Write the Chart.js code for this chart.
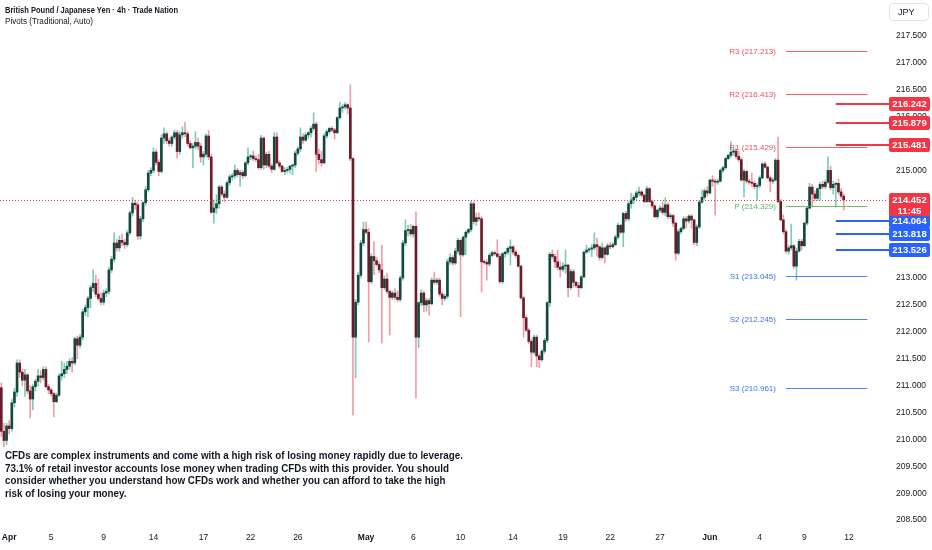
<!DOCTYPE html>
<html><head><meta charset="utf-8">
<script src="https://cdn.jsdelivr.net/npm/chart.js@4.4.1/dist/chart.umd.min.js"></script>
<style>
html,body{margin:0;padding:0;background:#fff;}
#wrap{position:relative;width:932px;height:550px;overflow:hidden;background:#fff;}
#c{position:absolute;left:0;top:0;}
.t{position:absolute;font-family:"Liberation Sans",Arial,sans-serif;color:#131722;white-space:nowrap;transform-origin:0 0;}
#jpy{position:absolute;left:889px;top:3px;width:40px;height:18px;border:1px solid #e0e3eb;border-radius:4px;box-sizing:border-box;font:9px "Liberation Sans",Arial,sans-serif;color:#131722;line-height:16px;padding-left:8px;}
</style></head><body>
<div id="wrap">
<canvas id="c" width="932" height="550"></canvas>
<div class="t" id="title" style="left:5px;top:5px;font-size:8.5px;font-weight:bold;">British Pound / Japanese Yen · 4h · Trade Nation</div>
<div class="t" id="sub" style="left:5px;top:16px;font-size:8.5px;">Pivots (Traditional, Auto)</div>
<div id="jpy">JPY</div>
<div class="t" id="disc" style="left:5px;top:449px;font-size:10.5px;line-height:12.6px;font-weight:bold;">
<div id="d1">CFDs are complex instruments and come with a high risk of losing money rapidly due to leverage.</div>
<div>73.1% of retail investor accounts lose money when trading CFDs with this provider. You should</div>
<div>consider whether you understand how CFDs work and whether you can afford to take the high</div>
<div>risk of losing your money.</div>
</div>
</div>
<script>
// ---- DATA (GBP/JPY 4h candles) ----
const openP = [
210.96,210.15,209.98,210.25,210.2,210.68,210.88,211.42,211.25,211.1,
211.2,210.9,210.75,210.98,211.08,211.18,211.15,211.3,210.98,210.92,
210.85,210.7,210.82,211.18,211.22,211.3,211.36,211.45,211.42,211.87,
211.75,211.9,212.37,212.45,212.62,212.82,212.9,212.7,212.62,212.55,
212.72,212.75,213.15,213.35,213.65,213.56,213.7,213.66,213.62,213.84,
214.21,214.39,214.36,213.78,214.1,214.4,214.64,214.95,215.0,215.34,
215.15,214.98,215.6,215.68,215.55,215.5,215.62,215.7,215.35,215.66,
215.7,215.68,215.5,215.42,215.45,215.52,215.45,215.25,215.3,215.64,
215.25,214.22,214.3,214.38,214.69,214.56,214.5,214.77,214.88,214.9,
215.0,214.92,214.96,214.9,215.14,215.25,215.27,215.22,215.2,215.05,
215.6,215.1,215.3,215.08,215.02,215.62,215.14,215.08,214.98,215.0,
215.02,215.08,215.1,215.32,215.4,215.62,215.56,215.66,215.7,215.78,
215.86,215.3,215.2,215.14,215.64,215.72,215.78,215.75,215.7,215.98,
216.16,216.18,216.22,216.16,215.22,211.9,212.55,213.05,213.65,213.9,
213.85,212.93,213.4,213.32,213.25,213.15,212.82,212.98,212.75,212.64,
212.72,212.64,212.6,213.0,213.65,213.88,213.9,213.82,213.96,211.9,
212.54,212.72,212.5,212.58,212.52,212.96,212.92,212.96,212.7,212.62,
212.66,213.3,213.38,213.28,213.5,213.7,213.43,213.76,213.85,213.9,
214.38,214.05,214.12,214.1,213.3,213.29,213.26,213.42,213.47,213.45,
213.4,212.93,213.45,213.48,213.55,213.58,213.48,213.42,213.22,212.63,
212.26,212.03,211.82,211.62,211.9,211.55,211.48,211.64,211.84,212.54,
213.44,213.4,213.3,213.2,213.16,213.22,213.24,212.82,213.12,212.92,
212.86,212.82,213.02,213.48,213.52,213.54,213.56,213.62,213.58,213.38,
213.56,213.44,213.6,213.58,213.62,213.76,213.98,213.85,214.2,214.1,
214.38,214.45,214.5,214.58,214.6,214.54,214.42,214.66,214.42,214.34,
214.14,214.26,214.3,214.22,214.36,214.14,214.16,214.02,213.46,213.86,
213.92,214.1,214.06,214.15,214.08,213.66,213.95,214.41,214.5,214.62,
214.58,214.82,214.8,214.78,214.8,215.0,215.05,215.22,215.28,215.34,
215.36,215.26,215.2,214.82,214.98,214.8,214.78,214.76,214.7,214.72,
214.86,215.12,215.06,214.86,214.8,214.82,215.19,214.42,214.08,213.86,
213.5,213.56,213.6,213.22,213.5,213.68,213.6,214.02,214.3,214.69,
214.56,214.48,214.66,214.74,214.7,214.78,215.0,214.68,214.74,214.76,
214.6,214.52];
const highP = [
211.05,210.3,210.3,210.35,210.75,210.95,211.48,211.48,211.3,211.3,
211.22,211.0,211.02,211.12,211.3,211.28,211.35,211.35,211.02,210.95,
210.88,210.86,211.22,211.45,211.42,211.45,211.5,211.52,211.9,211.92,
211.95,212.42,212.5,212.66,212.86,213.15,213.05,212.98,212.72,212.78,
212.8,213.2,213.4,213.84,213.72,213.78,213.82,213.72,213.88,214.25,
214.5,214.45,214.4,214.15,214.42,214.7,215.0,215.05,215.42,215.38,
215.2,215.66,215.79,215.72,215.6,215.64,215.75,215.74,215.72,215.81,
215.9,215.72,215.55,215.5,215.72,215.6,215.5,215.35,215.68,215.74,
215.3,214.45,214.55,214.72,214.72,214.62,214.8,214.92,214.94,215.1,
215.04,215.0,215.0,215.16,215.42,215.3,215.36,215.26,215.3,215.65,
215.62,215.34,215.36,215.12,215.7,215.7,215.18,215.1,215.05,215.06,
215.1,215.12,215.36,215.44,215.79,215.68,215.7,215.72,215.82,216.07,
215.9,215.4,215.36,215.68,215.76,215.8,215.82,215.78,216.0,216.27,
216.22,216.26,216.24,216.59,215.24,212.6,213.1,213.7,214.04,214.04,
213.92,213.45,213.67,213.38,213.3,213.61,213.04,213.08,212.78,212.76,
212.8,212.76,213.04,213.7,214.08,213.98,214.0,213.98,214.23,212.56,
212.78,212.76,212.62,212.62,213.0,213.11,213.0,213.0,212.74,212.7,
213.35,213.45,213.42,213.55,213.74,213.72,213.78,213.88,213.92,214.43,
214.42,214.21,214.21,214.14,213.34,213.34,213.46,213.5,213.5,213.71,
213.45,213.48,213.5,213.58,213.71,213.6,213.52,213.45,213.24,212.66,
212.3,212.06,211.86,211.94,211.94,211.58,211.68,211.88,212.56,213.48,
213.52,213.44,213.52,213.3,213.28,213.52,213.26,213.16,213.16,212.94,
212.92,213.05,213.5,213.61,213.56,213.62,213.84,213.74,213.6,213.65,
213.58,213.64,213.66,213.66,213.8,214.02,214.0,214.22,214.24,214.42,
214.58,214.54,214.62,214.69,214.62,214.56,214.7,214.68,214.45,214.36,
214.28,214.34,214.41,214.49,214.4,214.2,214.18,214.04,213.9,213.95,
214.14,214.14,214.18,214.18,214.1,213.99,214.44,214.64,214.66,214.7,
214.84,214.9,214.84,214.84,215.03,215.08,215.25,215.3,215.53,215.4,
215.4,215.36,215.24,215.02,215.0,214.84,214.95,214.8,214.76,214.9,
215.14,215.16,215.08,214.9,214.86,215.22,215.62,214.46,214.17,213.9,
213.6,214.0,213.62,213.56,213.72,213.72,214.04,214.32,214.76,214.74,
214.62,214.68,214.78,214.8,214.82,215.25,215.08,214.8,214.78,214.84,
214.66,214.56];
const lowP = [
210.05,209.86,209.9,210.1,210.15,210.6,210.8,211.15,211.0,210.8,
210.85,210.4,210.55,210.9,211.0,211.05,211.1,210.95,210.85,210.8,
210.42,210.68,210.8,211.1,211.15,211.22,211.3,211.25,211.38,211.5,
211.7,211.85,212.3,212.28,212.45,212.75,212.65,212.58,212.5,212.5,
212.65,212.7,213.1,213.3,213.5,213.5,213.6,213.55,213.58,213.8,
214.15,214.28,213.72,213.72,214.05,214.35,214.6,214.9,214.95,215.1,
214.9,214.95,215.5,215.5,215.45,215.45,215.58,215.23,215.3,215.6,
215.62,215.45,215.4,215.05,215.4,215.38,215.15,215.1,215.25,215.2,
214.2,214.02,214.2,214.3,214.52,214.42,214.48,214.72,214.82,214.85,
214.88,214.7,214.85,214.88,215.1,215.2,215.18,215.16,215.02,215.02,
215.02,215.05,215.05,214.96,215.0,215.12,215.04,214.96,214.92,214.95,
214.95,214.92,215.05,215.28,215.35,215.5,215.54,215.6,215.62,215.74,
214.98,215.12,215.08,215.12,215.6,215.68,215.72,215.58,215.68,215.95,
216.08,216.14,216.05,215.18,210.45,211.14,212.5,213.0,213.6,213.82,
211.81,212.9,213.06,213.22,213.1,211.79,212.78,212.72,211.94,212.6,
212.6,212.56,212.56,212.96,213.6,213.78,213.78,213.76,210.77,211.7,
212.48,212.37,212.38,212.31,212.5,212.88,212.88,212.66,212.5,212.58,
212.62,213.25,213.24,213.25,213.45,212.28,213.4,213.43,213.82,213.86,
214.0,213.98,214.06,212.74,213.26,212.96,213.22,213.4,213.42,213.38,
212.9,212.9,213.38,213.44,213.24,213.44,213.38,213.2,212.6,211.9,
212.0,211.78,211.35,211.58,211.35,211.33,211.45,211.6,211.8,212.47,
213.36,213.19,213.15,213.02,213.12,213.09,212.65,212.78,212.83,212.82,
212.65,212.8,213.0,213.46,213.48,213.4,213.52,213.4,213.33,213.35,
213.28,213.42,213.54,213.56,213.6,213.72,213.82,213.58,214.05,214.06,
214.3,214.38,214.46,214.52,214.5,214.4,214.4,214.4,214.3,214.12,
214.1,214.22,214.18,214.16,214.1,214.1,213.96,213.33,213.43,213.82,
213.9,213.93,214.02,213.93,213.62,213.6,213.92,214.38,214.46,214.52,
214.56,214.7,214.17,214.74,214.78,214.96,215.02,215.2,215.24,215.28,
215.22,215.16,214.8,214.51,214.76,214.74,214.7,214.66,214.45,214.68,
214.84,215.04,214.84,214.6,214.76,214.8,214.4,214.06,213.82,213.46,
213.44,213.52,213.18,212.96,213.48,213.52,213.58,213.98,214.28,214.32,
214.44,214.44,214.45,214.66,214.66,214.76,214.64,214.56,214.32,214.56,
214.48,214.26];
const closeP = [
210.15,209.98,210.25,210.2,210.68,210.88,211.42,211.25,211.1,211.2,
210.9,210.75,210.98,211.08,211.18,211.15,211.3,210.98,210.92,210.85,
210.7,210.82,211.18,211.22,211.3,211.36,211.45,211.42,211.87,211.75,
211.9,212.37,212.45,212.62,212.82,212.9,212.7,212.62,212.55,212.72,
212.75,213.15,213.35,213.65,213.56,213.7,213.66,213.62,213.84,214.21,
214.39,214.36,213.78,214.1,214.4,214.64,214.95,215.0,215.34,215.15,
214.98,215.6,215.68,215.55,215.5,215.62,215.7,215.35,215.66,215.7,
215.68,215.5,215.42,215.45,215.52,215.45,215.25,215.3,215.64,215.25,
214.22,214.3,214.38,214.69,214.56,214.5,214.77,214.88,214.9,215.0,
214.92,214.96,214.9,215.14,215.25,215.27,215.22,215.2,215.05,215.6,
215.1,215.3,215.08,215.02,215.62,215.14,215.08,214.98,215.0,215.02,
215.08,215.1,215.32,215.4,215.62,215.56,215.66,215.7,215.78,215.86,
215.3,215.2,215.14,215.64,215.72,215.78,215.75,215.7,215.98,216.16,
216.18,216.22,216.16,215.22,211.9,212.55,213.05,213.65,213.9,213.85,
212.93,213.4,213.32,213.25,213.15,212.82,212.98,212.75,212.64,212.72,
212.64,212.6,213.0,213.65,213.88,213.9,213.82,213.96,211.9,212.54,
212.72,212.5,212.58,212.52,212.96,212.92,212.96,212.7,212.62,212.66,
213.3,213.38,213.28,213.5,213.7,213.43,213.76,213.85,213.9,214.38,
214.05,214.12,214.1,213.3,213.29,213.26,213.42,213.47,213.45,213.4,
212.93,213.45,213.48,213.55,213.58,213.48,213.42,213.22,212.63,212.26,
212.03,211.82,211.62,211.9,211.55,211.48,211.64,211.84,212.54,213.44,
213.4,213.3,213.2,213.16,213.22,213.24,212.82,213.12,212.92,212.86,
212.82,213.02,213.48,213.52,213.54,213.56,213.62,213.58,213.38,213.56,
213.44,213.6,213.58,213.62,213.76,213.98,213.85,214.2,214.1,214.38,
214.45,214.5,214.58,214.6,214.54,214.42,214.66,214.42,214.34,214.14,
214.26,214.3,214.22,214.36,214.14,214.16,214.02,213.46,213.86,213.92,
214.1,214.06,214.15,214.08,213.66,213.95,214.41,214.5,214.62,214.58,
214.82,214.8,214.78,214.8,215.0,215.05,215.22,215.28,215.34,215.36,
215.26,215.2,214.82,214.98,214.8,214.78,214.76,214.7,214.72,214.86,
215.12,215.06,214.86,214.8,214.82,215.19,214.42,214.08,213.86,213.5,
213.56,213.6,213.22,213.5,213.68,213.6,214.02,214.3,214.69,214.56,
214.48,214.66,214.74,214.7,214.78,215.0,214.68,214.74,214.76,214.6,
214.52,214.452];

// x axis: bar slots (incl. empty future slots) and date tick labels
const slotCount = 338;
const tickSlots = [3,19,39,58,77,95,113,139,157,175,195,214,232,251,270,289,306,323];
const tickTexts = ['Apr','5','9','14','17','22','26','May','6','10','14','19','22','27','Jun','4','9','12'];
const monthTicks = ['Apr','May','Jun'];
// y axis
const yMin = 208.353, yMax = 218.167;
const yTickValues = [208.5,209,209.5,210,210.5,211,211.5,212,212.5,213,213.5,214,214.5,215,215.5,216,216.5,217,217.5];
// pivots (Traditional, Auto)
const pivotNames = ['R3','R2','R1','P','S1','S2','S3'];
const pivotValues = [217.213,216.413,215.429,214.329,213.045,212.245,210.961];
const pivotStart = 299, pivotEnd = 330;
// right-hand levels
const levelUp = [216.242,215.879,215.481];
const levelDown = [214.064,213.818,213.526];
const levelStart = 318;
const lastPrice = 214.452;
const countdown = '11:45';

// ---- styles ----
const RED = '#f23645', BLUE = '#2962ff', GREEN = '#4caf50';
const UP_BODY = '#12493c', DN_BODY = '#6a1d28', UP_WICK = '#7fcbbb', DN_WICK = '#f29ca7';
const FONT = '"Liberation Sans", Arial, sans-serif';

const labels = Array.from({length: slotCount}, (_, i) => String(i));
const bodies = closeP.map((c, i) => [openP[i], c]);
const wicks = highP.map((h, i) => [lowP[i], h]);
const isUp = closeP.map((c, i) => c >= openP[i]);

const overlay = {
  id: 'overlay',
  afterDatasetsDraw(chart) {
    const ctx = chart.ctx, xs = chart.scales.x, ys = chart.scales.y;
    ctx.save();
    const x1 = xs.getPixelForValue(pivotStart), x2 = xs.getPixelForValue(pivotEnd);
    pivotNames.forEach((n, k) => {
      const col = n[0] === 'R' ? RED : (n[0] === 'S' ? BLUE : GREEN);
      const y = Math.round(ys.getPixelForValue(pivotValues[k])) + 0.5;
      ctx.strokeStyle = col; ctx.globalAlpha = 0.8; ctx.lineWidth = 1;
      ctx.beginPath(); ctx.moveTo(x1, y); ctx.lineTo(x2, y); ctx.stroke();
      ctx.globalAlpha = 0.9;
      ctx.fillStyle = col; ctx.font = '8px ' + FONT; ctx.textAlign = 'right'; ctx.textBaseline = 'middle';
      ctx.fillText(n + ' (' + pivotValues[k].toFixed(3) + ')', x1 - 10, y);
      ctx.globalAlpha = 1;
    });
    const lx = xs.getPixelForValue(levelStart);
    ctx.lineWidth = 2;
    levelUp.concat(levelDown).forEach((v, k) => {
      const y = Math.round(ys.getPixelForValue(v));
      ctx.strokeStyle = k < levelUp.length ? RED : BLUE;
      ctx.beginPath(); ctx.moveTo(lx, y); ctx.lineTo(889, y); ctx.stroke();
    });
    const yl = Math.round(ys.getPixelForValue(lastPrice)) + 0.5;
    ctx.strokeStyle = RED; ctx.lineWidth = 1; ctx.setLineDash([1, 2]);
    ctx.beginPath(); ctx.moveTo(0, yl); ctx.lineTo(chart.chartArea.right, yl); ctx.stroke();
    ctx.setLineDash([]);
    ctx.restore();
  },
  afterDraw(chart) {
    const ctx = chart.ctx, ys = chart.scales.y;
    ctx.save();
    function box(v, col, h, lines) {
      const y = ys.getPixelForValue(v);
      const top = Math.round(y - 7);
      ctx.fillStyle = col;
      ctx.beginPath();
      ctx.roundRect(889, top, 41, h, 2);
      ctx.fill();
      ctx.fillStyle = '#ffffff'; ctx.font = 'bold 9.5px ' + FONT; ctx.textAlign = 'center'; ctx.textBaseline = 'middle';
      lines.forEach((t, i) => ctx.fillText(t, 909.5, top + 7 + i * 11));
    }
    levelUp.forEach(v => box(v, RED, 14, [v.toFixed(3)]));
    levelDown.forEach(v => box(v, BLUE, 14, [v.toFixed(3)]));
    box(lastPrice, RED, 23, [lastPrice.toFixed(3), countdown]);
    ctx.restore();
  }
};

new Chart(document.getElementById('c'), {
  type: 'bar',
  data: {
    labels: labels,
    datasets: [
      { data: bodies, backgroundColor: isUp.map(u => u ? UP_BODY : DN_BODY), barThickness: 2, minBarLength: 1, grouped: false, order: 0 },
      { data: wicks, backgroundColor: isUp.map(u => u ? UP_WICK : DN_WICK), barThickness: 1, grouped: false, order: 1 }
    ]
  },
  options: {
    responsive: false,
    animation: false,
    layout: { padding: 0 },
    plugins: { legend: { display: false }, tooltip: { enabled: false }, title: { display: false } },
    scales: {
      x: {
        type: 'category',
        grid: { display: false, drawTicks: false },
        border: { display: false },
        ticks: {
          autoSkip: false, maxRotation: 0, minRotation: 0, padding: 5, color: '#131722',
          callback: (v, i) => { const k = tickSlots.indexOf(i); return k >= 0 ? tickTexts[k] : ''; },
          font: (c) => { const k = tickSlots.indexOf(c.index); const m = k >= 0 && monthTicks.includes(tickTexts[k]); return { family: FONT, size: 8.5, weight: m ? 'bold' : 'normal' }; }
        },
        afterFit: (s) => { s.height = 22; s.paddingLeft = 0; s.paddingRight = 0; }
      },
      y: {
        position: 'right', min: yMin, max: yMax,
        grid: { display: false, drawTicks: false },
        border: { display: false },
        afterBuildTicks: (s) => { s.ticks = yTickValues.map(v => ({ value: v })); },
        ticks: { padding: 9, color: '#131722', font: { family: FONT, size: 8.5 }, callback: (v) => Number(v).toFixed(3) },
        afterFit: (s) => { s.width = 45; s.paddingTop = 0; s.paddingBottom = 0; }
      }
    }
  },
  plugins: [overlay]
});

function fitWidth(el, target) { const w = el.getBoundingClientRect().width; if (w > 0) el.style.transform = 'scaleX(' + (target / w) + ')'; }
fitWidth(document.getElementById('title'), 173);
fitWidth(document.getElementById('sub'), 88);
(function(){ const d = document.getElementById('disc'); const l = document.getElementById('d1'); const r = document.createRange(); r.selectNodeContents(l); const w = r.getBoundingClientRect().width; if (w > 0) d.style.transform = 'scaleX(' + (458 / w) + ')'; })();
</script>
</body></html>
